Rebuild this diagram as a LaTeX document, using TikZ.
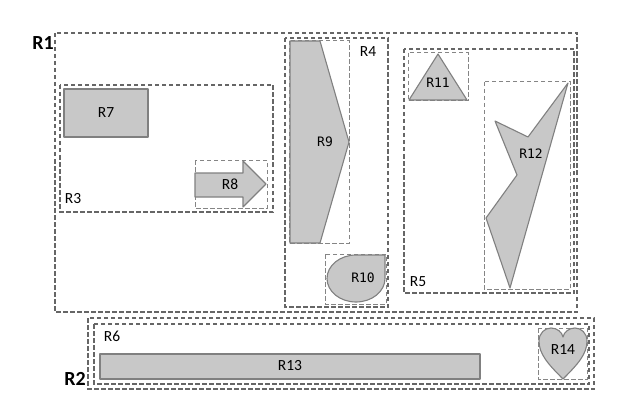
\documentclass[tikz,border=0pt]{standalone}
\usepackage{fontspec}
\setmainfont{Carlito}
\newfontfamily\regmono{DejaVu Sans Mono}
\definecolor{boxline}{HTML}{666666}
\definecolor{shapefill}{HTML}{C8C8C8}
\definecolor{shapeline}{HTML}{808080}
\begin{document}
\begin{tikzpicture}[x=1pt,y=-1pt,
    region/.style={draw=boxline, line width=1.2pt, dash pattern=on 4.5pt off 2.5pt},
    subregion/.style={draw=boxline!80, line width=1pt, dash pattern=on 4.5pt off 2.5pt},
    piece/.style={fill=shapefill, draw=shapeline, line width=1.1pt, line join=round},
    tag/.style={font=\fontsize{15.5}{18}\selectfont, inner sep=0pt},
    monotag/.style={font=\regmono\fontsize{13}{15}\selectfont, inner sep=0pt},
    bigtag/.style={font=\bfseries\fontsize{20}{24}\selectfont, inner sep=0pt}]
  \useasboundingbox (0,0) rectangle (628,406);
  % outer regions
  \draw[region] (55,33) rectangle (577,312);
  \draw[region] (88,318) rectangle (594,389);
  \draw[region] (60,85) rectangle (273,212);
  \draw[region] (285,38) rectangle (388,307);
  \draw[region] (404,49) rectangle (574,293);
  \draw[region] (94,324) rectangle (589,384);
  % inner boxes
  \draw[subregion] (195,160) rectangle (267,208);
  \draw[subregion] (289,41) rectangle (349,243);
  \draw[subregion] (325,254) rectangle (386,304);
  \draw[subregion] (408,53) rectangle (468,101);
  \draw[subregion] (484,82) rectangle (570,289);
  \draw[subregion] (538,328) rectangle (587,379);
  % shapes
  \draw[piece] (64,89) rectangle (148,137);
  \draw[piece] (195,173) -- (243,173) -- (243,161) -- (266,184) -- (243,207) -- (243,197) -- (195,197) -- cycle;
  \draw[piece] (290,41) -- (320,41) -- (349,142) -- (320,243) -- (290,243) -- cycle;
  \draw[piece] (356,255) -- (385,255) -- (385,278.5) arc[start angle=0, end angle=270, x radius=29, y radius=23.5] -- cycle;
  \draw[piece] (409,100) -- (438,54) -- (467,100) -- cycle;
  \draw[piece] (568,83) -- (528,137) -- (495,121) -- (517,175) -- (486,218) -- (510,288) -- cycle;
  \draw[piece] (100,354) rectangle (480,379);
  \draw[piece] (563,379) .. controls (548,364) and (539,354) .. (539,341)
    .. controls (539,333) and (545,328) .. (551,328)
    .. controls (557,328) and (562,332) .. (563,337)
    .. controls (564,332) and (569,328) .. (575,328)
    .. controls (581,328) and (587,333) .. (587,341)
    .. controls (587,354) and (578,364) .. (563,379) -- cycle;
  % labels
  \node[bigtag] (r1) at (43,43) {R1};
  \node[bigtag] (r2) at (75,379) {R2};
  \node[tag] (r3) at (73,199) {R3};
  \node[tag] (r4) at (368,52) {R4};
  \node[tag] (r5) at (418,282) {R5};
  \node[tag] (r6) at (112,336) {R6};
  \node[tag] (r7) at (106,113) {R7};
  \node[tag] (r8) at (230,184) {R8};
  \node[monotag] (r9) at (325,142) {R9};
  \node[monotag] (r10) at (363,278) {R10};
  \node[monotag] (r11) at (438,83) {R11};
  \node[monotag] (r12) at (531,154) {R12};
  \node[tag] (r13) at (290,366) {R13};
  \node[tag] (r14) at (563,350) {R14};
\end{tikzpicture}
\end{document}
